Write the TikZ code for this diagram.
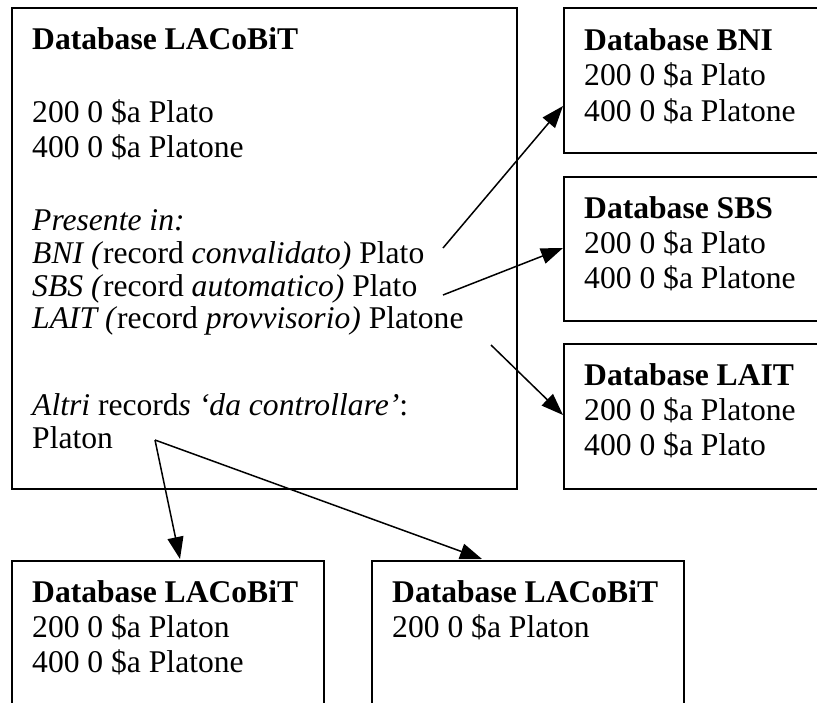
\documentclass[tikz,border=0pt]{standalone}
\usepackage{fontspec}
\setmainfont{Liberation Serif}
\usetikzlibrary{arrows.meta}
\begin{document}
\begin{tikzpicture}[x=1pt,y=-1pt,
  box/.style={draw, line width=1.8pt, inner sep=0pt, anchor=north west},
  txt/.style={anchor=base west, inner sep=0pt, font=\fontsize{31.6}{35}\selectfont},
  link/.style={line width=1.5pt, -{Triangle[length=22pt,width=16pt]}}]
\useasboundingbox (0,0) rectangle (817,702);
\clip (0,0) rectangle (817,702);
% boxes
\node[box, minimum width=505pt, minimum height=481pt] (main) at (11,7) {};
\node[box, minimum width=300pt, minimum height=145pt] (bni) at (563,7) {};
\node[box, minimum width=300pt, minimum height=144pt] (sbs) at (563,176) {};
\node[box, minimum width=300pt, minimum height=145pt] (lait) at (563,343) {};
\node[box, minimum width=312pt, minimum height=200pt] (lac1) at (11,560) {};
\node[box, minimum width=312pt, minimum height=200pt] (lac2) at (371,560) {};
% main box text
\node[txt] (m1) at (32,49) {\textbf{Database LACoBiT}};
\node[txt] (m2) at (32,122) {200 0 \$a Plato};
\node[txt] (m3) at (32,157) {400 0 \$a Platone};
\node[txt] (m4) at (32,230) {\textit{Presente in:}};
\node[txt] (m5) at (32,263) {\textit{BNI (}record \textit{convalidato)} Plato};
\node[txt] (m6) at (32,296) {\textit{SBS (}record \textit{automatico)} Plato};
\node[txt] (m7) at (32,328) {\textit{LAIT (}record \textit{provvisorio)} Platone};
\node[txt] (m8) at (32,415) {\textit{Altri} record\textit{s ‘da controllare’}:};
\node[txt] (m9) at (32,448) {Platon};
% right boxes text
\node[txt] (b1) at (584,50) {\textbf{Database BNI}};
\node[txt] (b2) at (584,85) {200 0 \$a Plato};
\node[txt] (b3) at (584,121) {400 0 \$a Platone};
\node[txt] (s1) at (584,218) {\textbf{Database SBS}};
\node[txt] (s2) at (584,253) {200 0 \$a Plato};
\node[txt] (s3) at (584,288) {400 0 \$a Platone};
\node[txt] (l1) at (584,385) {\textbf{Database LAIT}};
\node[txt] (l2) at (584,420) {200 0 \$a Platone};
\node[txt] (l3) at (584,455) {400 0 \$a Plato};
% bottom boxes text
\node[txt] (c1) at (32,602) {\textbf{Database LACoBiT}};
\node[txt] (c2) at (32,637) {200 0 \$a Platon};
\node[txt] (c3) at (32,672) {400 0 \$a Platone};
\node[txt] (d1) at (392,602) {\textbf{Database LACoBiT}};
\node[txt] (d2) at (392,637) {200 0 \$a Platon};
% connector ends
\coordinate (a1s) at (443,248);
\coordinate (a1e) at (563,106);
\coordinate (a2s) at (443,295);
\coordinate (a2e) at (563,248);
\coordinate (a3s) at (491,345);
\coordinate (a3e) at (563,415);
\coordinate (a4s) at (155,440);
\coordinate (a4e) at (180,559);
\coordinate (a5e) at (482,559);
\draw[link] (a1s) -- (a1e);
\draw[link] (a2s) -- (a2e);
\draw[link] (a3s) -- (a3e);
\draw[link] (a4s) -- (a4e);
\draw[link] (a4s) -- (a5e);
\end{tikzpicture}
\end{document}
